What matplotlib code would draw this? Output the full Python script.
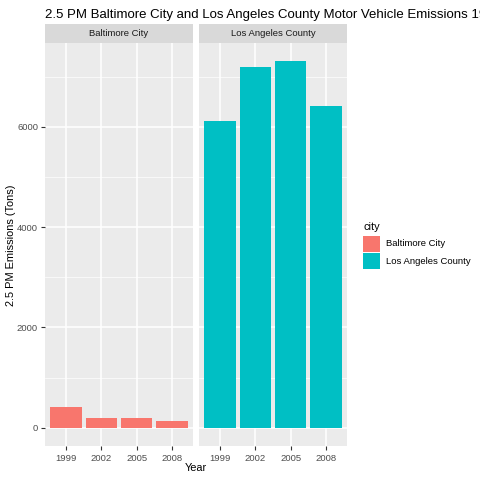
import matplotlib
matplotlib.use("Agg")
import matplotlib.pyplot as plt
from matplotlib.patches import Rectangle

plt.rcParams["font.family"] = ["Liberation Sans", "DejaVu Sans"]

years = ["1999", "2002", "2005", "2008"]
cities = ["Baltimore City", "Los Angeles County"]
baltimore = [403.8, 192.0, 185.4, 138.2]
los_angeles = [6109.7, 7188.7, 7304.1, 6421.0]
colors = ["#F8766D", "#00BFC4"]
y_major = [0, 2000, 4000, 6000]
y_minor = [1000, 3000, 5000, 7000]

W = H = 480.0
fig = plt.figure(figsize=(4.8, 4.8), dpi=100)


def fx(px):
    return px / W


def fy(py):
    return 1 - py / H


panel_top, panel_bot = 43, 446
strip_top = 24
panels = [(45, 193), (199, 347)]
ymax = max(los_angeles) * 1.05
ymin = -max(los_angeles) * 0.05
small = 6.8

for i, (x0, x1) in enumerate(panels):
    ax = fig.add_axes([fx(x0), fy(panel_bot), fx(x1 - x0), fy(panel_top) - fy(panel_bot)])
    ax.set_facecolor("#EBEBEB")
    vals = baltimore if i == 0 else los_angeles
    pos = list(range(len(years)))
    for y in y_minor:
        ax.axhline(y, color="white", lw=0.5, zorder=0)
    for y in y_major:
        ax.axhline(y, color="white", lw=1.1, zorder=0)
    for p in pos:
        ax.axvline(p, color="white", lw=1.1, zorder=0)
    ax.bar(pos, vals, width=0.9, color=colors[i], zorder=2)
    ax.set_xlim(-0.6, 3.6)
    ax.set_ylim(ymin, ymax)
    ax.set_xticks(pos)
    ax.set_xticklabels(years, fontsize=small, color="#4D4D4D")
    ax.set_yticks(y_major)
    if i == 0:
        ax.set_yticklabels([str(v) for v in y_major], fontsize=small, color="#4D4D4D")
        ax.tick_params(axis="y", length=3, color="#333333", pad=2)
    else:
        ax.tick_params(axis="y", left=False, labelleft=False)
    ax.tick_params(axis="x", length=3, color="#333333", pad=3)
    for s in ax.spines.values():
        s.set_visible(False)
    # facet strip
    sax = fig.add_axes([fx(x0), fy(panel_top), fx(x1 - x0), fy(strip_top) - fy(panel_top)])
    sax.set_facecolor("#D9D9D9")
    sax.set_xticks([])
    sax.set_yticks([])
    for s in sax.spines.values():
        s.set_visible(False)
    sax.text(0.5, 0.5, cities[i], ha="center", va="center", fontsize=small, color="#1A1A1A",
             transform=sax.transAxes)

fig.text(fx(45), fy(15), "2.5 PM Baltimore City and Los Angeles County Motor Vehicle Emissions 1999-2008",
         ha="left", va="center", fontsize=9.55)
fig.text(fx(196), fy(468), "Year", ha="center", va="center", fontsize=7.9)
fig.text(fx(11), fy(245), "2.5 PM Emissions (Tons)", ha="center", va="center", fontsize=7.9,
         rotation=90)

# legend
fig.text(fx(363), fy(227), "city", ha="left", va="center", fontsize=7.9)
for i, c in enumerate(cities):
    top = 236 + i * 17
    fig.patches.append(Rectangle((fx(363), fy(top + 16)), fx(17), fy(top) - fy(top + 16),
                                 transform=fig.transFigure, facecolor=colors[i], edgecolor="none"))
    fig.text(fx(386), fy(top + 8), c, ha="left", va="center", fontsize=small)

fig.savefig("out.png", dpi=100)
